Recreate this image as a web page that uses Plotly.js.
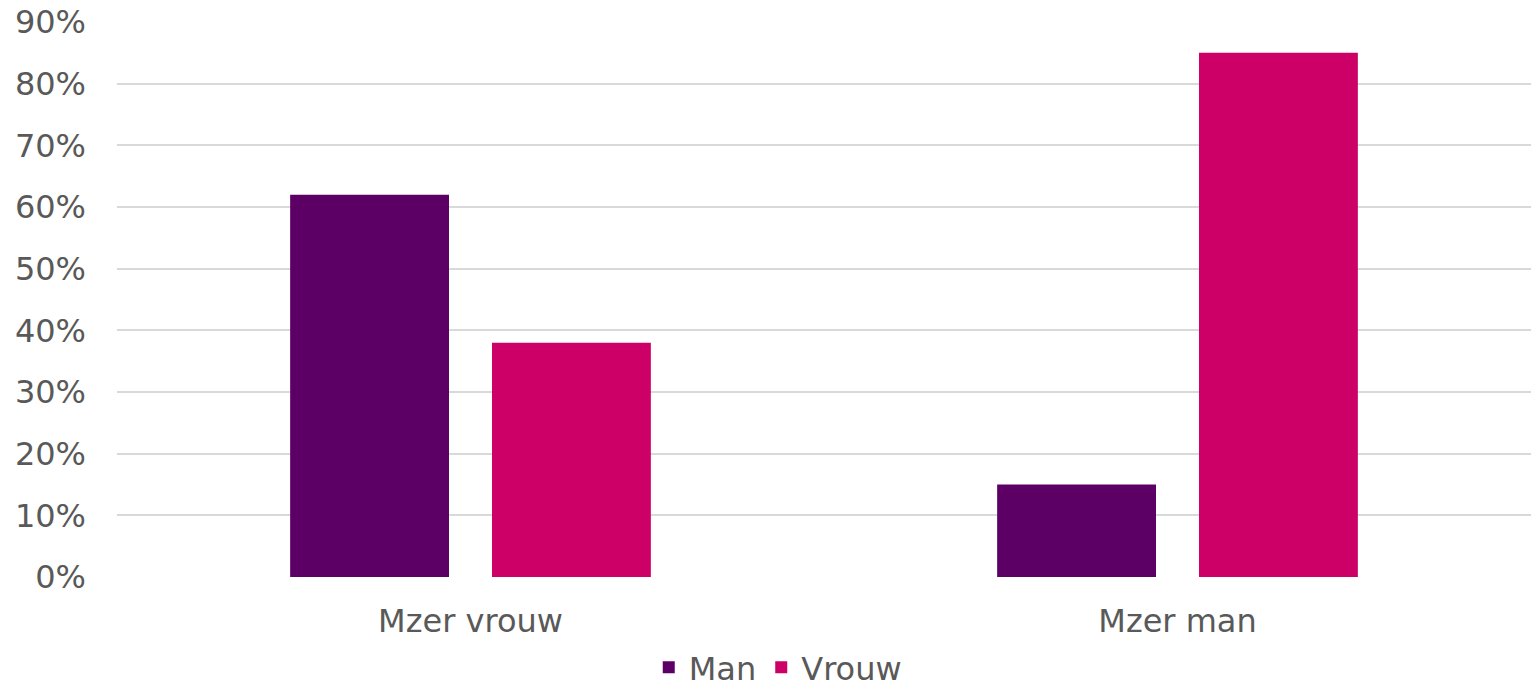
<!DOCTYPE html>
<html>
<head>
<meta charset="utf-8">
<script src="https://cdn.plot.ly/plotly-3.0.1.min.js"></script>
<style>html,body{margin:0;padding:0;background:#fff;}#chart{width:1531px;height:695px;}</style>
</head>
<body>
<div id="chart"></div>
<script>
const categories = ["Mzer vrouw", "Mzer man"];
const seriesNames = ["Man", "Vrouw"];
const manValues = [62, 15];
const vrouwValues = [38, 85];
const tickValues = [0, 10, 20, 30, 40, 50, 60, 70, 80, 90];
const tickLabels = ["0%", "10%", "20%", "30%", "40%", "50%", "60%", "70%", "80%", "90%"];

const font = {family: "DejaVu Sans, Verdana, sans-serif", size: 32, color: "#595959"};

const data = [
  {type: "bar", name: seriesNames[0], x: categories, y: manValues, marker: {color: "#5C0066"}, hoverinfo: "none"},
  {type: "bar", name: seriesNames[1], x: categories, y: vrouwValues, marker: {color: "#CC0066"}, hoverinfo: "none"}
];

const layout = {
  width: 1531, height: 695,
  margin: {l: 117, r: 0, t: 22, b: 118, autoexpand: false},
  paper_bgcolor: "#fff", plot_bgcolor: "#fff",
  font: font,
  barmode: "group",
  bargap: 0.429,
  bargroupgap: 0.213,
  showlegend: true,
  legend: {orientation: "h", x: 0.508, xref: "container", xanchor: "center", yref: "container", y: 0.0, yanchor: "bottom", font: font, traceorder: "normal"},
  xaxis: {type: "category", showgrid: false, zeroline: false, showline: false, ticks: "", tickfont: font, ticklabelstandoff: 22},
  yaxis: {range: [0, 90], tickvals: tickValues, ticktext: tickLabels, showgrid: true, gridcolor: "#d9d9d9", gridwidth: 2, zeroline: false, showline: false, ticks: "", tickfont: font, ticklabelstandoff: 30}
};

Plotly.newPlot("chart", data, layout, {displayModeBar: false, staticPlot: true});
</script>
</body>
</html>
